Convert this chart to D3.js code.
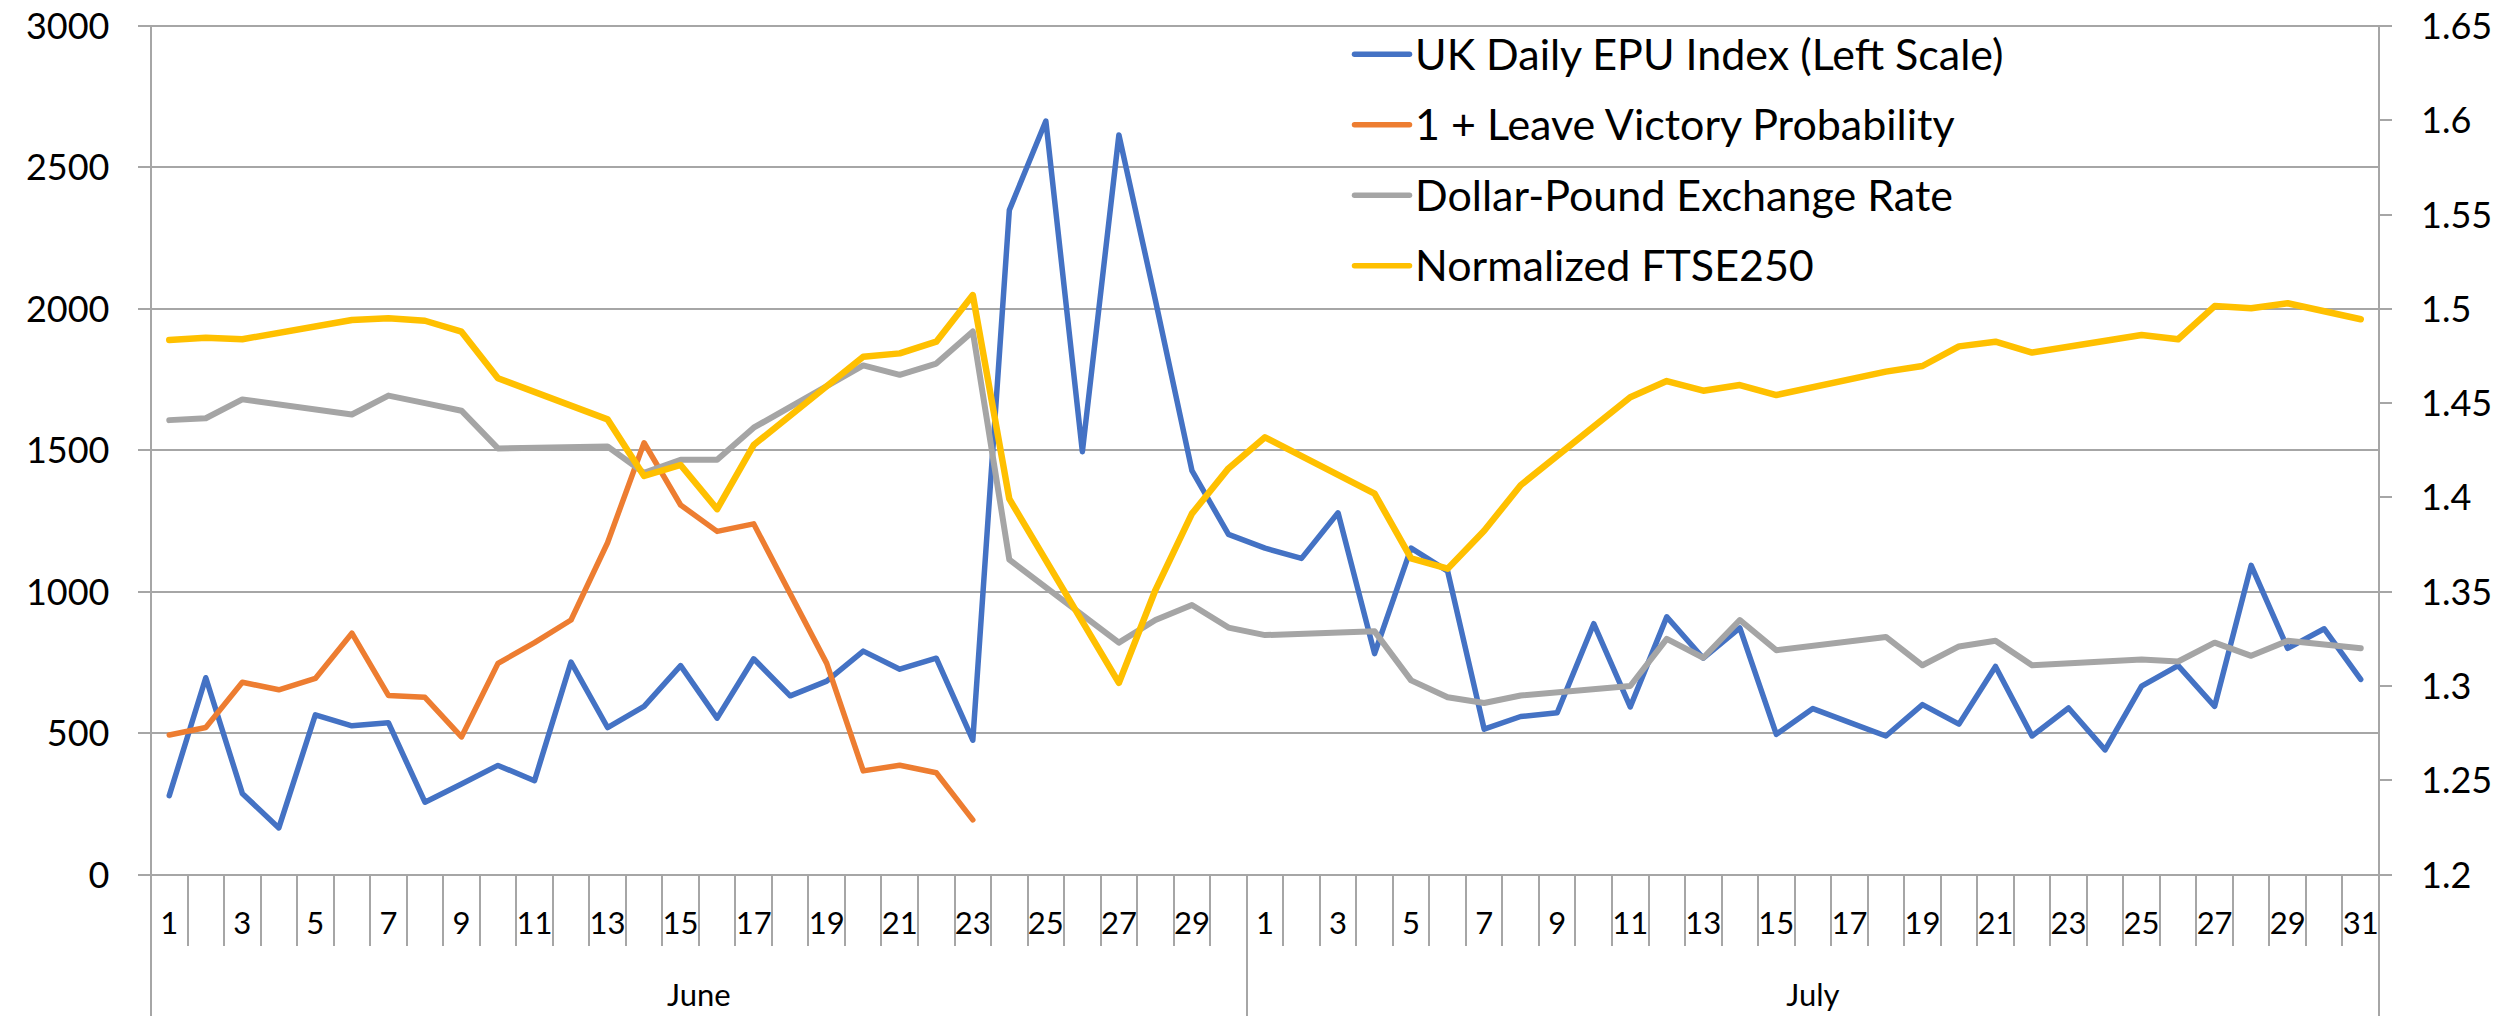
<!DOCTYPE html>
<html>
<head>
<meta charset="utf-8">
<script src="https://cdn.jsdelivr.net/npm/d3@7"></script>
<style>
    html, body { margin: 0; padding: 0; background: #fff; }
    svg { display: block; font-family: Lato, 'Open Sans', sans-serif; fill: #000; }
    .rule { stroke: #a6a6a6; stroke-width: 2; shape-rendering: crispEdges; }
    .series { fill: none; stroke-linejoin: round; stroke-linecap: round; }
</style>
</head>
<body>
<svg id="chart" width="2516" height="1019"></svg>
<script>
/**
 * Data.
 */
const months = ['June', 'July'],
    monthDays = [30, 31];

// UK Daily EPU index (left scale), one value per day
const epu = [
    279, 696, 287, 165, 565, 526, 537, 256, 320, 386, 332, 751, 520, 595, 739,
    553, 763, 632, 684, 790, 726, 765, 475, 2349, 2664, 1495, 2615, 2030, 1428, 1203,
    1154, 1118, 1279, 781, 1154, 1073, 514, 559, 572, 887, 593, 911, 765, 872, 496,
    587, 538, 490, 601, 532, 736, 490, 589, 441, 666, 739, 595, 1093, 800, 869, 690
];

// 1 + leave victory probability (right scale), ends on the referendum day
const leaveProb = [
    1.274, 1.278, 1.302, 1.298, 1.304, 1.328, 1.295, 1.294, 1.273, 1.312, 1.323, 1.335,
    1.376, 1.429, 1.396, 1.382, 1.386, 1.349, 1.312, 1.255, 1.258, 1.254, 1.229
];

// Dollar-pound rate (right scale), null on non-trading days
const dollarPound = [
    1.441, 1.442, 1.452, null, null, 1.444, 1.454, 1.450, 1.446, 1.426, null, null, 1.427, 1.413, 1.420,
    1.420, 1.437, null, null, 1.470, 1.465, 1.471, 1.488, 1.367, null, null, 1.323, 1.335, 1.343, 1.331,
    1.327, null, null, 1.329, 1.303, 1.294, 1.291, 1.295, null, null, 1.300, 1.325, 1.315, 1.335, 1.319,
    null, null, 1.326, 1.311, 1.321, 1.324, 1.311, null, null, 1.314, 1.313, 1.323, 1.316, 1.324, null, 1.320
];

// Normalized FTSE250 (right scale), null on non-trading days
const ftse250 = [
    1.4835, 1.4847, 1.4839, null, null, 1.4941, 1.495, 1.4937, 1.4879, 1.4632, null, null, 1.4414, 1.4114, 1.4172,
    1.3938, 1.4278, null, null, 1.4746, 1.4764, 1.4826, 1.5073, 1.3992, null, null, 1.3017, 1.3509, 1.3914, 1.4154,
    1.4319, null, null, 1.402, 1.3677, 1.3622, 1.3823, 1.4065, null, null, 1.4531, 1.4617, 1.4566, 1.4596, 1.4543,
    null, null, 1.4667, 1.4697, 1.4801, 1.4826, 1.4768, null, null, 1.4861, 1.4839, 1.5015, 1.5003, 1.503, null, 1.4945
];

const leftTicks = [0, 500, 1000, 1500, 2000, 2500, 3000],
    rightTicks = ['1.2', '1.25', '1.3', '1.35', '1.4', '1.45', '1.5', '1.55', '1.6', '1.65'];

const seriesNames = ['UK Daily EPU Index (Left Scale)', '1 + Leave Victory Probability',
        'Dollar-Pound Exchange Rate', 'Normalized FTSE250'],
    seriesColors = ['#4472c4', '#ed7d31', '#a5a5a5', '#ffc000'],
    seriesWidths = [5.5, 5.5, 6, 6.5];

/**
 * Visual configs.
 */
const margin = { top: 26, right: 137, bottom: 144.4, left: 151 },
    visWidth = 2516, visHeight = 1019,
    width = visWidth - margin.left - margin.right,
    height = visHeight - margin.top - margin.bottom,
    tickLength = 13.4,
    dayTickBottom = 71,
    monthLineBottom = 141.5;

/**
 * Categories: one per day, grouped by month.
 */
const days = [];
months.forEach((m, mi) => {
    for (let d = 1; d <= monthDays[mi]; d++) days.push({ month: m, day: d, key: m + '-' + d });
});

/**
 * D3.
 */
const x = d3.scaleBand().domain(days.map(d => d.key)).range([0, width]),
    yLeft = d3.scaleLinear().domain([0, 3000]).range([height, 0]),
    yRight = d3.scaleLinear().domain([1.2, 1.65]).range([height, 0]),
    cx = i => x(days[i].key) + x.bandwidth() / 2;

const svg = d3.select('#chart');
svg.append('rect').attr('width', visWidth).attr('height', visHeight).attr('fill', '#fff');
const g = svg.append('g').attr('transform', 'translate(' + margin.left + ',' + margin.top + ')');

// Gridlines with outside tick marks on the left
g.append('g').selectAll('line').data(leftTicks).join('line')
    .attr('class', 'rule')
    .attr('x1', -tickLength).attr('x2', width)
    .attr('y1', d => yLeft(d)).attr('y2', d => yLeft(d));

// Right axis ticks
g.append('g').selectAll('line').data(rightTicks).join('line')
    .attr('class', 'rule')
    .attr('x1', width).attr('x2', width + tickLength)
    .attr('y1', d => yRight(+d)).attr('y2', d => yRight(+d));

// Vertical axis lines
[0, width].forEach(px => {
    g.append('line').attr('class', 'rule')
        .attr('x1', px).attr('x2', px).attr('y1', 0).attr('y2', height + monthLineBottom);
});

// Day tick marks at each category boundary
g.append('g').selectAll('line').data(days.slice(1)).join('line')
    .attr('class', 'rule')
    .attr('x1', d => x(d.key)).attr('x2', d => x(d.key))
    .attr('y1', height).attr('y2', d => height + (d.day === 1 ? monthLineBottom : dayTickBottom));

// Axis labels
g.append('g').selectAll('text').data(leftTicks).join('text')
    .attr('x', -41.5).attr('y', d => yLeft(d) + 13)
    .attr('text-anchor', 'end').style('font-size', '36px')
    .text(d => d);

g.append('g').selectAll('text').data(rightTicks).join('text')
    .attr('x', width + 42).attr('y', d => yRight(+d) + 13)
    .style('font-size', '36px')
    .text(d => d);

g.append('g').selectAll('text').data(days.filter(d => d.day % 2 === 1)).join('text')
    .attr('x', d => x(d.key) + x.bandwidth() / 2).attr('y', height + 59)
    .attr('text-anchor', 'middle').style('font-size', '31px')
    .text(d => d.day);

g.append('g').selectAll('text').data(months).join('text')
    .attr('x', m => {
        const inMonth = days.filter(d => d.month === m);
        return (x(inMonth[0].key) + x(inMonth[inMonth.length - 1].key) + x.bandwidth()) / 2;
    })
    .attr('y', height + 131.5)
    .attr('text-anchor', 'middle').style('font-size', '31px')
    .text(m => m);

/**
 * Series lines. Missing days are skipped and the line joins the neighbours.
 */
const series = [
    { values: epu, scale: yLeft },
    { values: leaveProb, scale: yRight },
    { values: dollarPound, scale: yRight },
    { values: ftse250, scale: yRight }
];

series.forEach((s, si) => {
    const pts = s.values.map((v, i) => [cx(i), v]).filter(p => p[1] !== null);
    const line = d3.line().x(p => p[0]).y(p => s.scale(p[1]));
    g.append('path').attr('class', 'series')
        .attr('d', line(pts))
        .attr('stroke', seriesColors[si])
        .attr('stroke-width', seriesWidths[si]);
});

/**
 * Legend.
 */
const legend = svg.append('g').attr('transform', 'translate(1354.5,54.3)');
const item = legend.selectAll('g').data(seriesNames).join('g')
    .attr('transform', (d, i) => 'translate(0,' + (i * 70.5) + ')');
item.append('line')
    .attr('x1', 0).attr('x2', 55).attr('y1', 0).attr('y2', 0)
    .attr('stroke', (d, i) => seriesColors[i])
    .attr('stroke-width', 5.5).attr('stroke-linecap', 'round');
item.append('text')
    .attr('x', 60.5).attr('y', 15.5)
    .style('font-size', '43px')
    .text(d => d);
</script>
</body>
</html>
